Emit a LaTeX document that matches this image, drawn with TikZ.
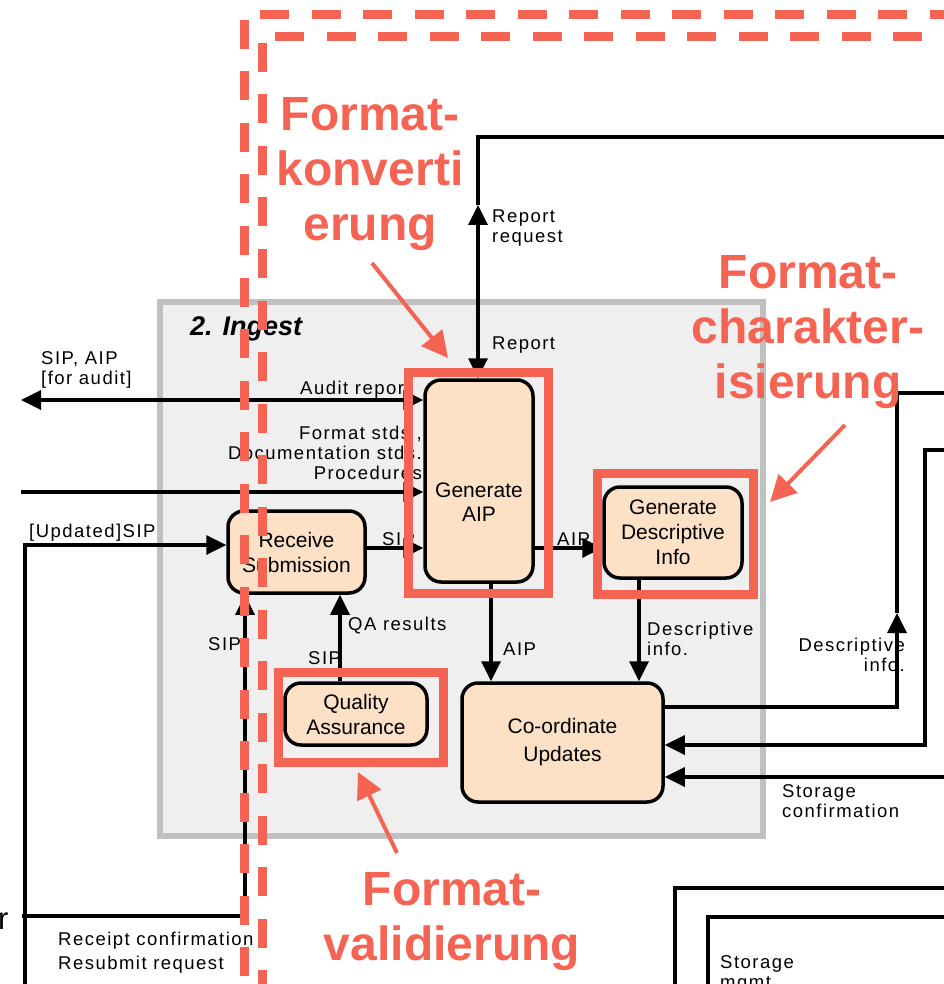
\documentclass[tikz,border=0pt]{standalone}
\usepackage{fontspec}
\setmainfont{Liberation Sans}
\newfontfamily\lblfont[LetterSpace=8]{Liberation Sans}
\usetikzlibrary{arrows.meta}
\definecolor{hl}{RGB}{245,99,82}
\definecolor{peach}{RGB}{252,225,198}
\definecolor{boxgray}{RGB}{239,239,239}
\definecolor{boxedge}{RGB}{192,192,192}
\begin{document}
\begin{tikzpicture}[x=1pt,y=-1pt,
  proc/.style={draw=black, line width=3.5pt, fill=peach, rounded corners=16pt, align=center, inner sep=0pt, font=\fontsize{21}{25}\selectfont},
  ptext/.style={align=center, inner sep=0pt, font=\fontsize{21}{24}\selectfont},
  wire/.style={line width=3.5pt},
  flow/.style={line width=3.5pt, -{Triangle[length=20pt,width=19pt]}},
  bflow/.style={line width=3.5pt, {Triangle[length=20pt,width=19pt]}-{Triangle[length=20pt,width=19pt]}},
  lbl/.style={inner sep=0pt, align=left, font=\lblfont\fontsize{18.5}{20}\selectfont},
  rlbl/.style={inner sep=0pt, align=right, font=\lblfont\fontsize{18.5}{20}\selectfont},
  hlbox/.style={draw=hl, line width=9pt},
  hldash/.style={draw=hl, line width=9pt, dash pattern=on 29pt off 22.5pt},
  hltext/.style={text=hl, align=center, inner sep=0pt, font=\fontsize{48}{55}\selectfont\bfseries},
  hlarrow/.style={draw=hl, line width=4pt, -{Triangle[length=26pt,width=26pt]}}
]
\useasboundingbox (0,0) rectangle (943,984);

% ingest box
\draw[draw=boxedge, fill=boxgray, line width=6pt] (160,301.5) rectangle (763,836);
\node[anchor=base west, inner sep=0pt, font=\fontsize{27}{30}\selectfont\bfseries\itshape] (ingest) at (190,335) {2. Ingest};

% processes
\node[proc, minimum width=137pt, minimum height=82pt] (rs) at (296.5,552) {Receive\\Submission};
\node[proc, minimum width=108pt, minimum height=202pt] (gaip) at (479,481) {};
\node[ptext] (gaiptxt) at (479,502) {Generate\\AIP};
\node[proc, minimum width=138pt, minimum height=91pt] (gdi) at (673,532.5) {Generate\\Descriptive\\Info};
\node[proc, minimum width=142pt, minimum height=62pt] (qa) at (356,714) {Quality\\Assurance};
\node[proc, minimum width=201pt, minimum height=119pt, font=\fontsize{21}{28}\selectfont] (cu) at (562.5,742.5) {Co-ordinate\\Updates};

% coordinates
\coordinate (auditL) at (21,400);
\coordinate (fmtL) at (21,492);
\coordinate (updL) at (25,545);
\coordinate (prodB) at (25,990);
\coordinate (sipy) at (0,548);
\coordinate (rcpt) at (245,916);
\coordinate (rcptL) at (22,916);
\coordinate (qax) at (340,0);
\coordinate (aipx) at (491,0);
\coordinate (dix) at (639,0);
\coordinate (rr) at (478,205);
\coordinate (rc) at (478,137);
\coordinate (ro) at (950,137);
\coordinate (d1) at (897,707);
\coordinate (d1a) at (897,613);
\coordinate (d1b) at (897,393);
\coordinate (d1c) at (950,393);
\coordinate (e1) at (950,450);
\coordinate (e2) at (925,450);
\coordinate (e3) at (925,745);
\coordinate (s1) at (950,777);

% connectors
\draw[bflow] (auditL) -- (gaip.west |- auditL);
\draw[flow] (fmtL) -- (gaip.west |- fmtL);
\draw[flow] (prodB) -- (updL) -- (rs.west |- updL);
\draw[flow] (rs.east |- sipy) -- (gaip.west |- sipy);
\draw[wire] (rcptL) -- (rcpt);
\draw[flow] (rcpt) -- (rcpt |- rs.south);
\draw[flow] (qa.north -| qax) -- (rs.south -| qax);
\draw[flow] (gaip.east |- sipy) -- (gdi.west |- sipy);
\draw[flow] (gaip.south -| aipx) -- (cu.north -| aipx);
\draw[flow] (gdi.south -| dix) -- (cu.north -| dix);
\draw[bflow] (gaip.north -| rr) -- (rr);
\draw[wire] (rr) -- (rc) -- (ro);
\draw[flow] (cu.east |- d1) -- (d1) -- (d1a);
\draw[wire] (d1a) -- (d1b) -- (d1c);
\draw[flow] (e1) -- (e2) -- (e3) -- (cu.east |- e3);
\draw[flow] (s1) -- (cu.east |- s1);
\draw[wire] (950,888) -- (675,888) -- (675,990);
\draw[wire] (950,917) -- (708,917) -- (708,990);

% labels
\node[lbl, anchor=north west] (lrr) at (492,209.7) {Report\\request};
\node[lbl, anchor=base west] (lrep) at (492,349) {Report};
\node[lbl, anchor=north west] (lsa) at (41,351.7) {SIP, AIP\\{[for audit]}};
\node[lbl, anchor=base west] (laud) at (300,394) {Audit report};
\node[rlbl, anchor=north east] (lfmt) at (422,425.7) {Format stds ,\\Documentation stds.\\Procedures};
\node[lbl, anchor=base west] (lupd) at (29,537) {[Updated]SIP};
\node[lbl, anchor=base west] (lsip1) at (382,545) {SIP};
\node[lbl, anchor=base west] (lsip2) at (208,650) {SIP};
\node[lbl, anchor=base west] (lqa) at (348,630) {QA results};
\node[lbl, anchor=base west] (lsip3) at (308,664) {SIP};
\node[lbl, anchor=base west] (laip1) at (557,545) {AIP};
\node[lbl, anchor=base west] (laip2) at (503,655) {AIP};
\node[lbl, anchor=north west] (ldi1) at (647,621.7) {Descriptive\\info.};
\node[rlbl, anchor=north east] (ldi2) at (905,637.7) {Descriptive\\info.};
\node[lbl, anchor=north west] (lsc) at (782,784.5) {Storage\\confirmation};
\node[lbl, anchor=north west, font=\lblfont\fontsize{18.5}{24}\selectfont] (lrc) at (58,931.7) {Receipt confirmation\\Resubmit request};
\node[lbl, anchor=north west] (lsm) at (720,955.5) {Storage\\mgmt};
\node[anchor=base west, inner sep=0pt, font=\fontsize{31}{31}\selectfont] (prodr) at (-2,929) {r};

% highlight boxes
\draw[hlbox] (408,372) rectangle (548,593);
\draw[hlbox] (597.5,473) rectangle (753.5,594.5);
\draw[hlbox] (278.5,672) rectangle (443,762);

% dashed frames
\draw[hldash] (244,20) -- (244,990);
\draw[hldash] (260,15) -- (950,15);
\draw[hldash] (262,43) -- (262,990);
\draw[hldash] (275,37) -- (950,37);

% annotations
\node[hltext, anchor=north] (t1) at (370,97.6) {Format-\\konverti\\erung};
\node[hltext, anchor=north] (t2) at (808,255.6) {Format-\\charakter-\\isierung};
\node[hltext, anchor=north] (t3) at (452,872.6) {Format-\\validierung};
\coordinate (a1s) at (372,263);
\coordinate (a1e) at (448,358);
\coordinate (a2s) at (845,425);
\coordinate (a2e) at (770,502);
\coordinate (a3s) at (397,853);
\coordinate (a3e) at (358,772);
\draw[hlarrow] (a1s) -- (a1e);
\draw[hlarrow] (a2s) -- (a2e);
\draw[hlarrow] (a3s) -- (a3e);
\end{tikzpicture}
\end{document}
